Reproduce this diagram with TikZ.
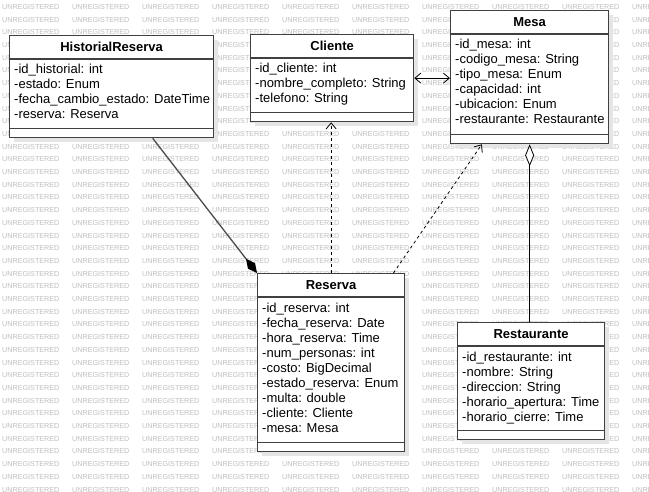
\documentclass[tikz,border=0pt]{standalone}
\usepackage{fontspec}
\setmainfont{Liberation Sans}
\usetikzlibrary{arrows.meta,calc,shadows}

\tikzset{
  classbox/.style={draw=black!75, line width=1.3pt, fill=white, anchor=north west, inner sep=0pt,
    drop shadow={shadow xshift=4pt, shadow yshift=-4pt, fill=black!10, opacity=1}},
  sepline/.style={draw=black!75, line width=1.3pt},
  classname/.style={inner sep=0pt, font=\fontsize{13}{15}\selectfont\bfseries},
  attr/.style={anchor=west, inner sep=0pt, text height=9.5pt, text depth=2.7pt,
    font=\fontsize{13}{15}\selectfont},
  watermark/.style={anchor=west, inner sep=0pt, text=black!25, font=\fontsize{7.2}{8}\selectfont},
  composition/.style={draw=black!70, line width=1.3pt, -{Diamond[length=18pt, width=9pt, color=black]}},
  aggregation/.style={draw=black, line width=0.8pt, {Diamond[open, fill=white, length=22pt, width=9pt]}-},
  dependency/.style={draw=black, line width=0.8pt, dash pattern=on 3pt off 3pt,
    -{Straight Barb[length=6pt, width=10pt]}},
  association/.style={draw=black, line width=0.8pt,
    {Straight Barb[length=6pt, width=10pt]}-{Straight Barb[length=6pt, width=10pt]}},
}

\begin{document}
\begin{tikzpicture}[x=1pt, y=-1pt]
  \clip (0,0) rectangle (649,492);
  \fill[white] (0,0) rectangle (649,492);

  % watermark
  \foreach \r in {0,...,38}
    \foreach \c in {0,...,9}
      \node[watermark] (wm-\r-\c) at ({2+70*\c},{7+12.7*\r}) {UNREGISTERED};

  % HistorialReserva
  \node[classbox, minimum width=204, minimum height=102] (historial) at (9,35) {};
  \node[classname] (historial-name) at ($(historial.north)+(0,12)$) {HistorialReserva};
  \draw[sepline] ($(historial.north west)+(0,24)$) -- ($(historial.north east)+(0,24)$);
  \draw[sepline] ($(historial.south west)+(0,-10)$) -- ($(historial.south east)+(0,-10)$);
  \foreach \attr [count=\i] in {-id\_historial: int, -estado: Enum,
      -fecha\_cambio\_estado: DateTime, -reserva: Reserva}
    \node[attr] (historial-\i) at ($(historial.north west)+(5,{20.5+15*\i})$) {\attr};

  % Cliente
  \node[classbox, minimum width=163, minimum height=87] (cliente) at (250,34) {};
  \node[classname] (cliente-name) at ($(cliente.north)+(0,12)$) {Cliente};
  \draw[sepline] ($(cliente.north west)+(0,24)$) -- ($(cliente.north east)+(0,24)$);
  \draw[sepline] ($(cliente.south west)+(0,-10)$) -- ($(cliente.south east)+(0,-10)$);
  \foreach \attr [count=\i] in {-id\_cliente: int, -nombre\_completo: String, -telefono: String}
    \node[attr] (cliente-\i) at ($(cliente.north west)+(5,{20.5+15*\i})$) {\attr};

  % Mesa
  \node[classbox, minimum width=158, minimum height=133] (mesa) at (450,10) {};
  \node[classname] (mesa-name) at ($(mesa.north)+(0,12)$) {Mesa};
  \draw[sepline] ($(mesa.north west)+(0,24)$) -- ($(mesa.north east)+(0,24)$);
  \draw[sepline] ($(mesa.south west)+(0,-10)$) -- ($(mesa.south east)+(0,-10)$);
  \foreach \attr [count=\i] in {-id\_mesa: int, -codigo\_mesa: String, -tipo\_mesa: Enum,
      -capacidad: int, -ubicacion: Enum, -restaurante: Restaurante}
    \node[attr] (mesa-\i) at ($(mesa.north west)+(5,{20.5+15*\i})$) {\attr};

  % Reserva
  \node[classbox, minimum width=147, minimum height=178] (reserva) at (257,273) {};
  \node[classname] (reserva-name) at ($(reserva.north)+(0,12)$) {Reserva};
  \draw[sepline] ($(reserva.north west)+(0,24)$) -- ($(reserva.north east)+(0,24)$);
  \draw[sepline] ($(reserva.south west)+(0,-10)$) -- ($(reserva.south east)+(0,-10)$);
  \foreach \attr [count=\i] in {-id\_reserva: int, -fecha\_reserva: Date, -hora\_reserva: Time,
      -num\_personas: int, -costo: BigDecimal, -estado\_reserva: Enum, -multa: double,
      -cliente: Cliente, -mesa: Mesa}
    \node[attr] (reserva-\i) at ($(reserva.north west)+(5,{21.5+15*\i})$) {\attr};

  % Restaurante
  \node[classbox, minimum width=147, minimum height=117] (restaurante) at (457,322) {};
  \node[classname] (restaurante-name) at ($(restaurante.north)+(0,12)$) {Restaurante};
  \draw[sepline] ($(restaurante.north west)+(0,24)$) -- ($(restaurante.north east)+(0,24)$);
  \draw[sepline] ($(restaurante.south west)+(0,-10)$) -- ($(restaurante.south east)+(0,-10)$);
  \foreach \attr [count=\i] in {-id\_restaurante: int, -nombre: String, -direccion: String,
      -horario\_apertura: Time, -horario\_cierre: Time}
    \node[attr] (restaurante-\i) at ($(restaurante.north west)+(5,{21.5+15*\i})$) {\attr};

  % relations
  \draw[composition] ($(historial.south west)!0.7!(historial.south east)$) -- (reserva.north west);
  \draw[dependency] (reserva.north) -- (reserva.north |- cliente.south);
  \draw[dependency] ($(reserva.north west)!0.92!(reserva.north east)$)
    -- ($(mesa.south west)!0.2!(mesa.south east)$);
  \draw[association] (cliente.east) -- (cliente.east -| mesa.west);
  \draw[aggregation] (mesa.south) -- (mesa.south |- restaurante.north);
\end{tikzpicture}
\end{document}
